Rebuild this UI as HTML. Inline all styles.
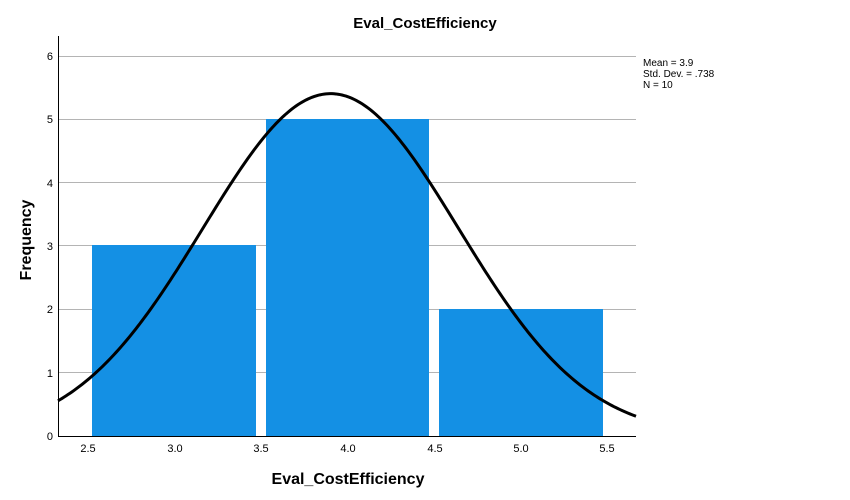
<!DOCTYPE html>
<html><head><meta charset="utf-8"><style>
html,body{margin:0;padding:0;background:#fff;}
svg{display:block;font-family:"Liberation Sans",Arial,sans-serif;}
</style></head><body>
<svg id="s" width="850" height="500" xmlns="http://www.w3.org/2000/svg">
<rect width="850" height="500" fill="#fff"/>
<text x="425" y="28" text-anchor="middle" font-size="15" font-weight="bold" fill="#000">Eval_CostEfficiency</text>
<g stroke="#b4b4b4" stroke-width="1">
<line x1="58" x2="636" y1="372.5" y2="372.5"/>
<line x1="58" x2="636" y1="309.5" y2="309.5"/>
<line x1="58" x2="636" y1="245.5" y2="245.5"/>
<line x1="58" x2="636" y1="182.5" y2="182.5"/>
<line x1="58" x2="636" y1="119.5" y2="119.5"/>
<line x1="58" x2="636" y1="56.5" y2="56.5"/>
</g>
<g fill="#1490e4">
<rect x="92" y="245" width="164" height="191"/>
<rect x="266" y="119" width="163" height="317"/>
<rect x="439" y="309" width="164" height="127"/>
</g>
<g stroke="#000" stroke-width="1">
<line x1="58.5" y1="36" x2="58.5" y2="436"/>
<line x1="58" y1="436.5" x2="636" y2="436.5"/>
</g>
<g font-size="11" fill="#000" text-anchor="end">
<text x="53" y="440">0</text><text x="53" y="377">1</text><text x="53" y="313">2</text>
<text x="53" y="250">3</text><text x="53" y="187">4</text><text x="53" y="123">5</text><text x="53" y="60">6</text>
</g>
<g font-size="11" fill="#000" text-anchor="middle">
<text x="88" y="452">2.5</text><text x="175" y="452">3.0</text><text x="261" y="452">3.5</text>
<text x="348" y="452">4.0</text><text x="435" y="452">4.5</text><text x="521" y="452">5.0</text><text x="607" y="452">5.5</text>
</g>
<text x="348" y="484" text-anchor="middle" font-size="16" font-weight="bold">Eval_CostEfficiency</text>
<text transform="translate(31,240) rotate(-90)" text-anchor="middle" font-size="16" font-weight="bold">Frequency</text>
<g font-size="10" fill="#000">
<text x="643" y="66">Mean = 3.9</text>
<text x="643" y="77">Std. Dev. = .738</text>
<text x="643" y="88">N = 10</text>
</g>
<path id="c" fill="none" stroke="#000" stroke-width="3"/>
</svg>
<script>
var d="",m=3.9,s=0.738,N=10;
for(var px=58;px<=636;px+=2){var v=(px-348)/173.2+4;var f=N/(s*Math.sqrt(2*Math.PI))*Math.exp(-0.5*Math.pow((v-m)/s,2));var py=436-f*63.33;d+=(px==58?"M":"L")+px+","+py.toFixed(2);}
document.getElementById("c").setAttribute("d",d);
</script>
</body></html>
